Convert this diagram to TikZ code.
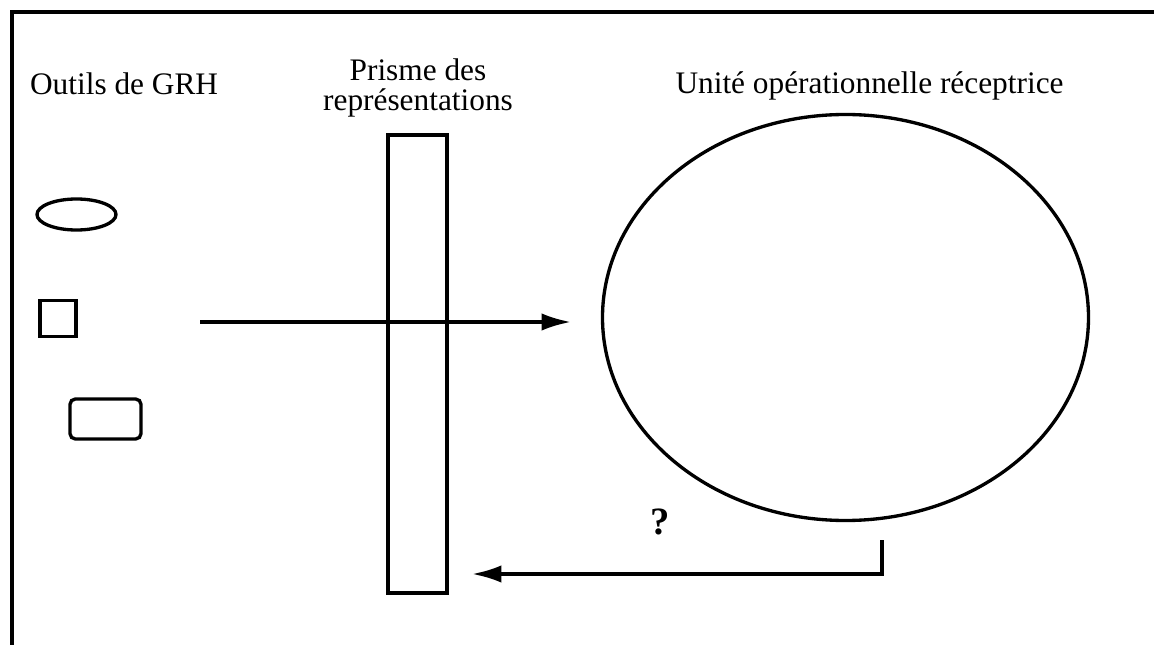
\documentclass[tikz,border=0pt]{standalone}
\usepackage{fontspec}
\setmainfont{Liberation Serif}
\usetikzlibrary{shapes.geometric,arrows.meta}
\begin{document}
\begin{tikzpicture}[x=0.75pt,y=-0.75pt,line width=2.5pt,
  forme/.style={draw,inner sep=0pt},
  titre/.style={font=\fontsize{23.5}{23}\selectfont,align=center},
  fleche/.style={-{Latex[length=22pt,width=13pt]}}]
\useasboundingbox (0,0) rectangle (1154,645);
\draw (1154,12) -- (12,12) -- (12,645);
\node [titre,anchor=base west] (outils) at (24,95) {Outils de GRH};
\node [titre] (prismetxt) at (418,88) {Prisme des\\représentations};
\node [titre,anchor=base] (unitetxt) at (869.5,94) {Unité opérationnelle réceptrice};
\node [forme,ellipse,minimum width=59.25pt,minimum height=23.25pt] (ovale) at (76.5,214.5) {};
\node [forme,minimum size=27pt] (carre) at (58,318.5) {};
\node [forme,rounded corners=4pt,minimum width=53.25pt,minimum height=30pt] (arrondi) at (105.5,419) {};
\node [forme,minimum width=44.25pt,minimum height=343.5pt] (prisme) at (417.5,364) {};
\node [forme,ellipse,minimum width=364.5pt,minimum height=304.5pt] (unite) at (845.5,317.5) {};
\node [font=\bfseries\fontsize{29}{30}\selectfont] (question) at (660,522) {?};
\coordinate (depart) at (200,322);
\coordinate (arrivee) at (571,322);
\coordinate (retour) at (882,540);
\coordinate (fin) at (472,574);
\draw [fleche] (depart) -- (arrivee);
\draw [fleche] (retour) |- (fin);
\end{tikzpicture}
\end{document}
